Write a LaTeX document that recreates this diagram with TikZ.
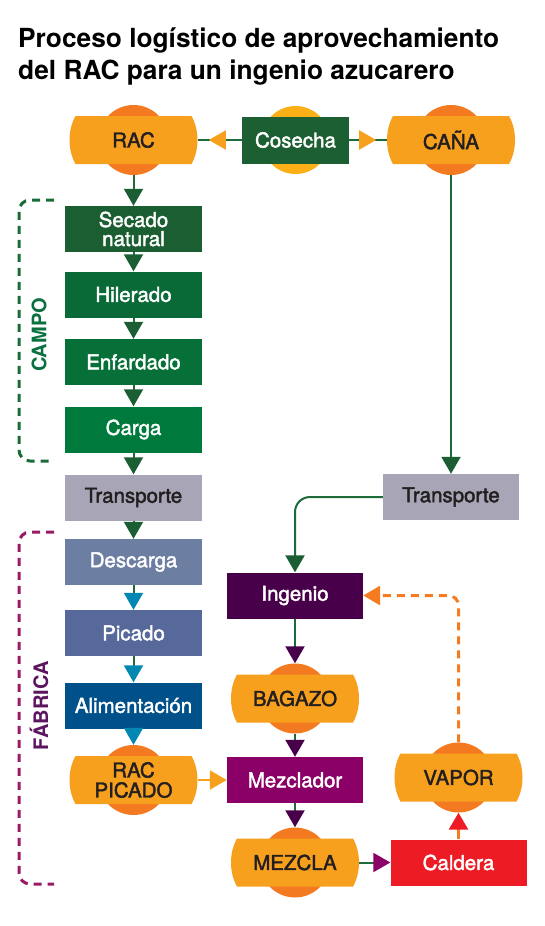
\documentclass[tikz,border=0pt]{standalone}
\usepackage{fontspec}
\setmainfont{TeX Gyre Heros}
\newfontface\medfont{TeX Gyre Heros}[FakeBold=2]
\usepackage{xcolor}
\usepackage{tikz}
\usetikzlibrary{shapes.geometric, arrows.meta, positioning, backgrounds, decorations.markings}
\definecolor{inkdark}{HTML}{231F20}
\definecolor{lightorange}{HTML}{F7A01E}
\definecolor{deeporange}{HTML}{F37A21}
\definecolor{sunyellow}{HTML}{FCB017}
\definecolor{linkgreen}{HTML}{1E6B3A}
\definecolor{greentip}{HTML}{1C5E33}
\definecolor{cosechagreen}{HTML}{1B5F32}
\definecolor{secadogreen}{HTML}{1B5E31}
\definecolor{hileradogreen}{HTML}{0A6A37}
\definecolor{enfardadogreen}{HTML}{077038}
\definecolor{cargagreen}{HTML}{00793C}
\definecolor{transgray}{HTML}{A8A6B6}
\definecolor{descargablue}{HTML}{6D7EA3}
\definecolor{picadoblue}{HTML}{57699A}
\definecolor{alimblue}{HTML}{00508A}
\definecolor{tealtip}{HTML}{0088B3}
\definecolor{ingeniopurple}{HTML}{48004A}
\definecolor{mezcladormagenta}{HTML}{8A0066}
\definecolor{calderared}{HTML}{ED1C24}
\definecolor{dashorange}{HTML}{F47B20}
\definecolor{campogreen}{HTML}{1B6B38}
\definecolor{campolabel}{HTML}{0A7040}
\definecolor{fabricaline}{HTML}{9A1A66}
\definecolor{fabricalabel}{HTML}{5C1660}

\begin{document}
\begin{tikzpicture}[
    x=1pt, y=-1pt,
    stage/.style={rectangle, minimum width=137pt, minimum height=46pt, inner sep=0pt, text=white, align=center, font=\medfont\fontsize{20.5}{19}\selectfont},
    product/.style={ellipse, minimum width=128pt, minimum height=70pt, inner sep=0pt, text=inkdark, align=center, font=\medfont\fontsize{20.5}{20}\selectfont},
    link/.style={line width=2pt, linkgreen},
    arrowto/.style={-{Triangle[length=17pt, width=19pt, color=#1]}},
    bracket/.style={line width=3pt, dash pattern=on 8pt off 6pt, rounded corners=11pt},
    phaselabel/.style={rotate=90, font=\bfseries\fontsize{20}{20}\selectfont},
]
    \useasboundingbox (0,0) rectangle (544,926);
    % title
    \node[anchor=north west, align=left, inner sep=0pt, font=\bfseries\fontsize{26.3}{32}\selectfont] (title) at (18,28) {Proceso logístico de aprovechamiento\\del RAC para un ingenio azucarero};

    % harvest
    \node[product] (rac) at (133.5,140) {RAC};
    \node[stage, fill=cosechagreen, minimum width=107pt, minimum height=47pt] (cosecha) at (295.5,140) {Cosecha};
    \node[product] (cana) at (451,140) {CAÑA};

    % campo
    \node[stage, fill=secadogreen] (secado) at (133.5,229) {Secado\\natural};
    \node[stage, fill=hileradogreen] (hilerado) at (133.5,294.5) {Hilerado};
    \node[stage, fill=enfardadogreen] (enfardado) at (133.5,362) {Enfardado};
    \node[stage, fill=cargagreen] (carga) at (133.5,429.5) {Carga};
    \node[stage, fill=transgray, text=inkdark] (transL) at (133.5,497.5) {Transporte};
    \node[stage, fill=transgray, text=inkdark, minimum width=136pt] (transR) at (451,497) {Transporte};

    % fabrica
    \node[stage, fill=descargablue] (descarga) at (133.5,562) {Descarga};
    \node[stage, fill=picadoblue] (picado) at (133.5,633) {Picado};
    \node[stage, fill=alimblue] (alim) at (133.5,705.5) {Alimentación};
    \node[product] (racpicado) at (133.5,780) {RAC\\PICADO};

    \node[stage, fill=ingeniopurple, minimum width=136pt] (ingenio) at (295,595.5) {Ingenio};
    \node[product] (bagazo) at (295,698.5) {BAGAZO};
    \node[stage, fill=mezcladormagenta, minimum width=136pt] (mezclador) at (295,780) {Mezclador};
    \node[product] (mezcla) at (295,862.5) {MEZCLA};
    \node[stage, fill=calderared, minimum width=136pt] (caldera) at (458.5,862.5) {Caldera};
    \node[product] (vapor) at (458.5,777.5) {VAPOR};

    % phase brackets
    \draw[bracket, campogreen] (54,200) -- (19,200) -- (19,461) -- (54,461);
    \node[phaselabel, text=campolabel] (campo) at (39,335) {CAMPO};
    \draw[bracket, fabricaline] (54,532) -- (19,532) -- (19,884) -- (54,884);
    \node[phaselabel, text=fabricalabel] (fabrica) at (39,706) {FÁBRICA};

    % product shapes behind the text
    \begin{scope}[on background layer]
        \fill[sunyellow] (cosecha) circle (34pt);
        \foreach \p in {rac, cana, racpicado, bagazo, mezcla, vapor} {
            \fill[deeporange] (\p) circle (35pt);
            \fill[lightorange, shift={(\p.center)}] (-58,-24) -- (58,-24) .. controls (66,-10) and (66,10) .. (58,24) -- (-58,24) .. controls (-66,10) and (-66,-10) .. (-58,-24) -- cycle;
        }
    \end{scope}

    % connectors
    \draw[link, postaction={decorate}, decoration={markings, mark=at position 33pt with {\arrow{Triangle[length=17pt, width=19pt, color=lightorange]}}}] (cosecha.west) -- (rac.east);
    \draw[link, postaction={decorate}, decoration={markings, mark=at position 27pt with {\arrow{Triangle[length=17pt, width=19pt, color=lightorange]}}}] (cosecha.east) -- (cana.west);
    \draw[link, arrowto=greentip] (rac.south) -- (secado.north);
    \draw[link, arrowto=greentip] (secado) -- (hilerado);
    \draw[link, arrowto=greentip] (hilerado) -- (enfardado);
    \draw[link, arrowto=greentip] (enfardado) -- (carga);
    \draw[link, arrowto=greentip] (carga) -- (transL);
    \draw[link, arrowto=greentip] (transL) -- (descarga);
    \draw[link, arrowto=tealtip] (descarga) -- (picado);
    \draw[link, arrowto=tealtip] (picado) -- (alim);
    \draw[link, arrowto=tealtip] (alim.south) -- (racpicado.north);
    \draw[line width=2pt, lightorange, arrowto=lightorange] (racpicado.east) -- (mezclador.west);
    \draw[link, arrowto=greentip] (cana.south) -- (transR.north);
    \draw[link, arrowto=greentip, rounded corners=15pt] (transR.west) -| (ingenio.north);
    \draw[link, arrowto=ingeniopurple] (ingenio.south) -- (bagazo.north);
    \draw[link, arrowto=ingeniopurple] (bagazo.south) -- (mezclador.north);
    \draw[link, arrowto=ingeniopurple] (mezclador.south) -- (mezcla.north);
    \draw[link, arrowto=mezcladormagenta] (mezcla.east) -- (caldera.west);
    \draw[line width=3pt, dashorange, arrowto=calderared] (caldera.north) -- (vapor.south);
    \draw[line width=3pt, dashorange, dash pattern=on 8pt off 6pt, rounded corners=10pt, arrowto=dashorange] (vapor.north) |- (ingenio.east);
\end{tikzpicture}
\end{document}
